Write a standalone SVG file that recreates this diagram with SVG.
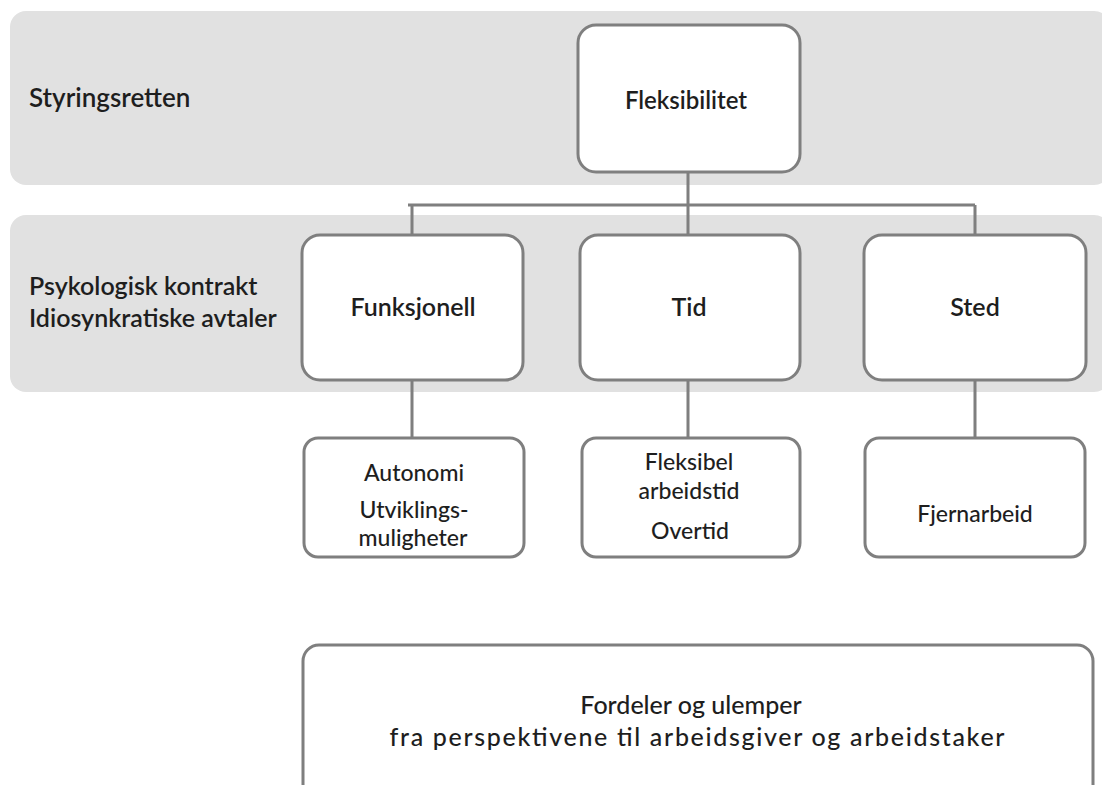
<svg xmlns="http://www.w3.org/2000/svg" width="1102" height="785" viewBox="0 0 1102 785">
<style>
.band{fill:#e1e1e1}
.box{fill:#fff;stroke:#7f7f7f;stroke-width:3}
.t{font-family:Lato,"Open Sans","Liberation Sans",sans-serif;font-size:25px;fill:#1e1e1e;font-weight:600}
.c{text-anchor:middle}
.n{font-weight:500;font-size:23px}
.b{font-weight:500;font-size:25px}
.line{fill:none;stroke:#7f7f7f;stroke-width:3}
</style>
<rect width="1102" height="785" fill="#fff"/>
<g id="band1"><rect class="band" x="10" y="11" width="1100" height="174" rx="16"/><text class="t" x="29" y="107" style="font-size:26px">Styringsretten</text></g>
<g id="band2"><rect class="band" x="10" y="215" width="1100" height="177" rx="16"/><text class="t" x="29" y="295">Psykologisk kontrakt</text><text class="t" x="29" y="327">Idiosynkratiske avtaler</text></g>
<g id="connectors">
<path class="line" d="M688 172V205M408 205H975M412 205V235M688 205V235M975 205V235M412 380V438M688 380V438M975 380V438"/>
</g>
<g id="fleksibilitet"><rect class="box" x="578" y="25" width="222" height="147" rx="18"/><text class="t c" x="686" y="109" style="font-size:24px">Fleksibilitet</text></g>
<g id="funksjonell"><rect class="box" x="302" y="235" width="221" height="145" rx="18"/><text class="t c" x="413" y="316">Funksjonell</text></g>
<g id="tid"><rect class="box" x="580" y="235" width="220" height="145" rx="18"/><text class="t c" x="689" y="316">Tid</text></g>
<g id="sted"><rect class="box" x="864" y="235" width="222" height="145" rx="18"/><text class="t c" x="975" y="316">Sted</text></g>
<g id="autonomi"><rect class="box" x="304" y="438" width="220" height="119" rx="14"/><text class="t c n" x="414" y="481">Autonomi</text><text class="t c n" x="414" y="518">Utviklings-</text><text class="t c n" x="413" y="546">muligheter</text></g>
<g id="tidsub"><rect class="box" x="582" y="438" width="218" height="119" rx="14"/><text class="t c n" x="689" y="470">Fleksibel</text><text class="t c n" x="689" y="499">arbeidstid</text><text class="t c n" x="690" y="539">Overtid</text></g>
<g id="fjernarbeid"><rect class="box" x="865" y="438" width="220" height="119" rx="14"/><text class="t c n" x="975" y="522">Fjernarbeid</text></g>
<g id="fordeler"><rect class="box" x="303" y="645" width="790" height="160" rx="16"/><text class="t c b" x="691" y="714">Fordeler og ulemper</text><text class="t c b" x="697" y="746" textLength="615" lengthAdjust="spacing">fra perspektivene til arbeidsgiver og arbeidstaker</text></g>
</svg>
